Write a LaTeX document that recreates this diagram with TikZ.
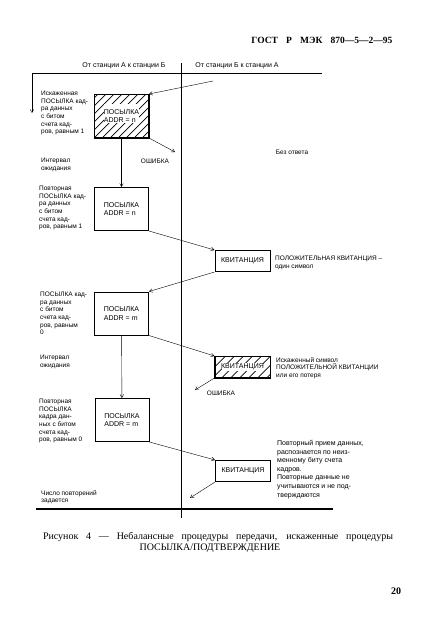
\documentclass[tikz,border=0pt]{standalone}
\usepackage{fontspec}
\setmainfont{Liberation Sans}
\newfontfamily\serifcyr{Liberation Serif}
\usepackage{tikz}
\usetikzlibrary{arrows, positioning}
\tikzset{->, >=angle 60, line width=1pt, font=\fontsize{6.5}{7.6}\selectfont}
\tikzset{frame/.style={shape=rectangle, draw, fill=white, line width=1pt,
    minimum width=54pt, minimum height=43pt, inner sep=0pt, align=left,
    font=\fontsize{7}{8.5}\selectfont}}
\tikzset{kvit/.style={frame, minimum width=55pt, minimum height=21pt}}
\tikzset{hatchline/.style={-, line width=0.7pt}}
\tikzset{lbl/.style={inner sep=0.8pt, align=left, font=\fontsize{7}{8.5}\selectfont}}
\tikzset{note/.style={anchor=north west, align=left, inner sep=0pt}}

\begin{document}
\begin{tikzpicture}[x=1pt, y=-1pt]
      \useasboundingbox (0,0) rectangle (422,622);
      \node[font=\serifcyr\bfseries\fontsize{9.5}{11}\selectfont, anchor=east] (gost) at (396,40)
      {\makebox[141pt][s]{ГОСТ Р МЭК 870—5—2—95}};
      % axes
      \node[font=\fontsize{7}{8}\selectfont] (ab) at (124,66) {От станции А к станции Б};
      \node[font=\fontsize{7}{8}\selectfont] (ba) at (237,66) {От станции Б к станции А};
      \draw[-] (181,63) -- (181,518);
      \draw (322,73) -- (32,73) -- (32,113);
      \draw[-, line width=1.2pt] (36,509) -- (333,509);
      %%%%%%%%%
      \node[frame] (s1) at (121.5,116) {};
      \begin{scope}
        \clip (94.5,94.5) rectangle (148.5,137.5);
        \foreach \h in {-48,-40,...,56}
          \draw[hatchline] (94.5+\h,137.5) -- (144.5+\h,87.5);
      \end{scope}
      \draw[-] (s1.south west) rectangle (s1.north east);
      \fill[white] (104,104) rectangle (139,123);
      \node[lbl] at (s1) {ПОСЫЛКА\\ADDR = n};
      \node[frame] (s2) at (121.5,209) {ПОСЫЛКА\\ADDR = n};
      \node[kvit] (k1) at (242.5,261) {КВИТАНЦИЯ};
      \node[frame] (s3) at (121.5,313.5) {ПОСЫЛКА\\ADDR = m};
      \node[kvit] (k2) at (242.5,367) {};
      \begin{scope}
        \clip (215,356.5) rectangle (270,377.5);
        \foreach \h in {-20,-11,...,56}
          \draw[hatchline] (215+\h,377.5) -- (240+\h,352.5);
      \end{scope}
      \draw[-] (k2.south west) rectangle (k2.north east);
      \fill[white] (222,363) rectangle (263,371);
      \node[lbl] at (k2) {КВИТАНЦИЯ};
      \node[frame] (s4) at (122,420) {ПОСЫЛКА\\ADDR = m};
      \node[kvit] (k3) at (243,471) {КВИТАНЦИЯ};
      \coordinate (in1) at (213,81);
      \coordinate (e1) at (175,152);
      \coordinate (e2) at (195,390);
      \coordinate (e3) at (190,498);
      \draw (in1) -- (s1.north east);
      \draw (s1.south east) -- (e1);
      \draw (s1) -- (s2);
      \draw (s2.south east) -- (k1.north west);
      \draw (k1.south west) -- (s3.north east);
      \draw (s3) -- (s4);
      \draw (s3.south east) -- (k2.north west);
      \draw (k2.south west) -- (e2);
      \draw (s4.south east) -- (k3.north west);
      \draw (k3.south west) -- (e3);
      % texts
      \node[note] (t1) at (41,91) {Искаженная\\ПОСЫЛКА кад-\\ра данных\\с битом\\счета кад-\\ров, равным 1};
      \node[note] (w1) at (41,158) {Интервал\\ожидания};
      \node (o1) at (155,161) {ОШИБКА};
      \node (no) at (292,152) {Без ответа};
      \node[note] (t2) at (39,186) {Повторная\\ПОСЫЛКА кад-\\ра данных\\с битом\\счета кад-\\ров, равным 1};
      \node[note] (p1) at (275,256) {ПОЛОЖИТЕЛЬНАЯ КВИТАНЦИЯ –\\один символ};
      \node[note] (t3) at (40,292) {ПОСЫЛКА кад-\\ра данных\\с битом\\счета кад-\\ров, равным\\0};
      \node[note] (w2) at (40,355) {Интервал\\ожидания};
      \node[note] (p2) at (276,357) {Искаженный символ\\ПОЛОЖИТЕЛЬНОЙ КВИТАНЦИИ\\или его потеря};
      \node (o2) at (221,393) {ОШИБКА};
      \node[note] (t4) at (39,399) {Повторная\\ПОСЫЛКА\\кадра дан-\\ных с битом\\счета кад-\\ров, равным 0};
      \node[note, font=\fontsize{7}{8.6}\selectfont] (p3) at (277,440) {Повторный прием данных,\\распознается по неиз-\\менному биту счета\\кадров.\\Повторные данные не\\учитываются и не под-\\тверждаются};
      \node[note] (nr) at (41,490) {Число повторений\\задается};
      % caption
      \node[font=\serifcyr\fontsize{10}{12}\selectfont] (cap1) at (218,537)
      {\makebox[350pt][s]{Рисунок 4 — Небалансные процедуры передачи, искаженные процедуры}};
      \node[font=\serifcyr\fontsize{10}{12}\selectfont] (cap2) at (210,548) {ПОСЫЛКА/ПОДТВЕРЖДЕНИЕ};
      \node[font=\serifcyr\bfseries\fontsize{10}{12}\selectfont] (pg) at (396,591) {20};
\end{tikzpicture}
\end{document}
